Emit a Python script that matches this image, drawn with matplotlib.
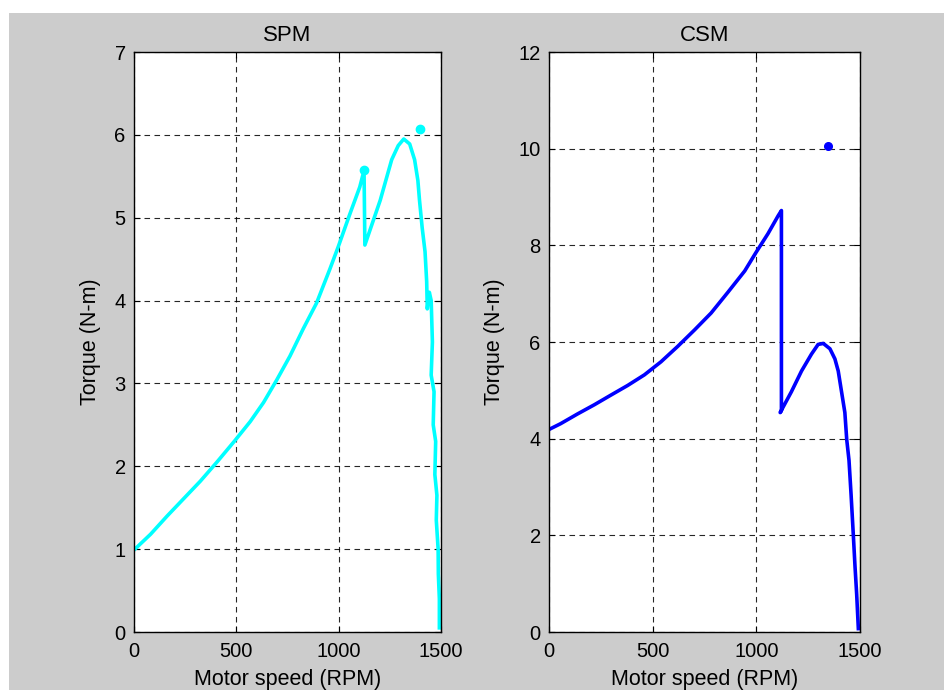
import matplotlib
matplotlib.use("Agg")
import matplotlib.pyplot as plt
from matplotlib.patches import Rectangle

plt.rcParams['font.family'] = ['Liberation Sans', 'DejaVu Sans']

# SPM (left) torque-speed curve
spm_speed = [0, 81, 162, 243, 324, 405, 493, 568, 633, 697, 762, 827, 892, 957, 998, 1054, 1103, 1124,
             1128, 1203, 1259, 1291, 1318, 1347, 1371, 1387, 1395, 1408, 1422, 1430, 1433,
             1443, 1452, 1458, 1452, 1466, 1462, 1474, 1470, 1480, 1477, 1486, 1487, 1492, 1492]
spm_torque = [0.99, 1.18, 1.40, 1.61, 1.82, 2.05, 2.31, 2.54, 2.77, 3.04, 3.33, 3.66, 3.97, 4.38, 4.65, 5.04, 5.37, 5.57,
              4.67, 5.21, 5.70, 5.87, 5.95, 5.89, 5.70, 5.45, 5.21, 4.88, 4.59, 4.23, 3.90,
              4.10, 4.00, 3.50, 3.10, 2.90, 2.50, 2.30, 1.90, 1.65, 1.35, 1.00, 0.70, 0.40, 0.05]
spm_dots_speed = [1124, 1398]
spm_dots_torque = [5.57, 6.07]

# CSM (right) torque-speed curve
csm_speed = [0, 56, 137, 218, 298, 379, 460, 540, 621, 702, 782, 863, 944, 998, 1056, 1105, 1121,
             1121, 1115, 1169, 1218, 1266, 1298, 1323, 1355, 1379, 1395, 1411, 1427, 1436, 1447,
             1457, 1468, 1476, 1484, 1492]
csm_torque = [4.19, 4.31, 4.51, 4.70, 4.90, 5.10, 5.32, 5.59, 5.91, 6.25, 6.60, 7.03, 7.47, 7.85, 8.24, 8.61, 8.72,
              4.58, 4.54, 4.97, 5.40, 5.75, 5.95, 5.97, 5.86, 5.65, 5.40, 4.97, 4.54, 3.98, 3.55,
              2.84, 1.99, 1.35, 0.78, 0.07]
csm_dot_speed = [1347]
csm_dot_torque = [10.06]

x_ticks = [0, 500, 1000, 1500]
spm_yticks = [0, 1, 2, 3, 4, 5, 6, 7]
csm_yticks = [0, 2, 4, 6, 8, 10, 12]

W, H = 944, 690
fig = plt.figure(figsize=(W / 100, H / 100), dpi=100, facecolor='white')
fig.patches.append(Rectangle((9 / W, 0), 1 - 9 / W, 1 - 13 / H, transform=fig.transFigure,
                             facecolor='#cccccc', edgecolor='none', zorder=-10))

def style(ax, yticks, ymax, title):
    ax.set_facecolor('white')
    ax.set_xlim(0, 1500)
    ax.set_ylim(0, ymax)
    ax.set_xticks(x_ticks)
    ax.set_yticks(yticks)
    ax.tick_params(direction='in', top=True, right=True, length=4, width=0.8,
                   labelsize=14.5, colors='black')
    ax.tick_params(axis='x', pad=7)
    ax.tick_params(axis='y', pad=6)
    ax.grid(True, color='black', linestyle=(0, (5, 4)), linewidth=0.8, alpha=0.85)
    for s in ax.spines.values():
        s.set_linewidth(1.0)
        s.set_color('black')
    ax.set_title(title, fontsize=16, pad=8)
    ax.set_xlabel('Motor speed (RPM)', fontsize=15.5, labelpad=6)
    ax.set_ylabel('Torque (N-m)', fontsize=15.5, labelpad=10)

ax1 = fig.add_axes([134 / W, 1 - 632 / H, 307 / W, 580 / H])
ax1.plot(spm_speed, spm_torque, color='#00ffff', linewidth=2.6, solid_joinstyle='round')
ax1.plot(spm_dots_speed, spm_dots_torque, 'o', color='#00ffff', markersize=6)
style(ax1, spm_yticks, 7, 'SPM')

ax2 = fig.add_axes([549 / W, 1 - 632 / H, 311 / W, 580 / H])
ax2.plot(csm_speed, csm_torque, color='#0000ff', linewidth=2.6, solid_joinstyle='round')
ax2.plot(csm_dot_speed, csm_dot_torque, 'o', color='#0000ff', markersize=5.5)
style(ax2, csm_yticks, 12, 'CSM')

fig.savefig('out.png', dpi=100, facecolor=fig.get_facecolor())
